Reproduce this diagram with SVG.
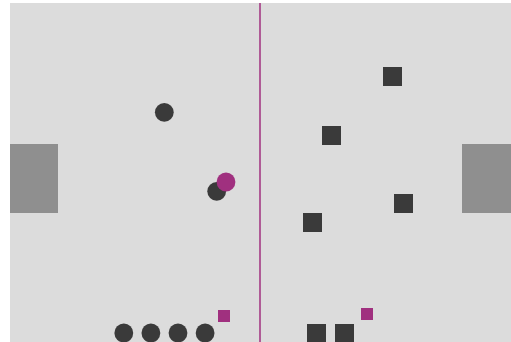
<svg xmlns="http://www.w3.org/2000/svg" width="511" height="342" viewBox="0 0 511 342">
<style>
.bg{fill:#dcdcdc}
.goal{fill:#8f8f8f}
.dk{fill:#3a3a3a}
.mg{fill:#a0307f}
.mid{stroke:#a0307f;stroke-width:1.5}
</style>
<rect width="511" height="342" fill="#ffffff"/>
<rect class="bg" x="10" y="3" width="501" height="339"/>
<g id="goal-left"><rect class="goal" x="10" y="144" width="48" height="69"/></g>
<g id="goal-right"><rect class="goal" x="462" y="144" width="49" height="69"/></g>
<g id="connectors"><line class="mid" x1="260" y1="3" x2="260" y2="342"/></g>
<g id="c1"><circle class="dk" cx="164.3" cy="112.3" r="9.4"/></g>
<g id="c2"><circle class="dk" cx="216.7" cy="191.3" r="9.4"/></g>
<g id="ball"><circle class="mg" cx="226" cy="182" r="9.4"/></g>
<g id="c3"><circle class="dk" cx="123.8" cy="333" r="9.4"/></g>
<g id="c4"><circle class="dk" cx="150.9" cy="333" r="9.4"/></g>
<g id="c5"><circle class="dk" cx="178" cy="333" r="9.4"/></g>
<g id="c6"><circle class="dk" cx="205.1" cy="333" r="9.4"/></g>
<g id="m1"><rect class="mg" x="218" y="310" width="12" height="12"/></g>
<g id="m2"><rect class="mg" x="361" y="308" width="12" height="12"/></g>
<g id="s1"><rect class="dk" x="383" y="67" width="19" height="19"/></g>
<g id="s2"><rect class="dk" x="322" y="126" width="19" height="19"/></g>
<g id="s3"><rect class="dk" x="394" y="194" width="19" height="19"/></g>
<g id="s4"><rect class="dk" x="303" y="213" width="19" height="19"/></g>
<g id="s5"><rect class="dk" x="307" y="324" width="19" height="19"/></g>
<g id="s6"><rect class="dk" x="335" y="324" width="19" height="19"/></g>
</svg>
